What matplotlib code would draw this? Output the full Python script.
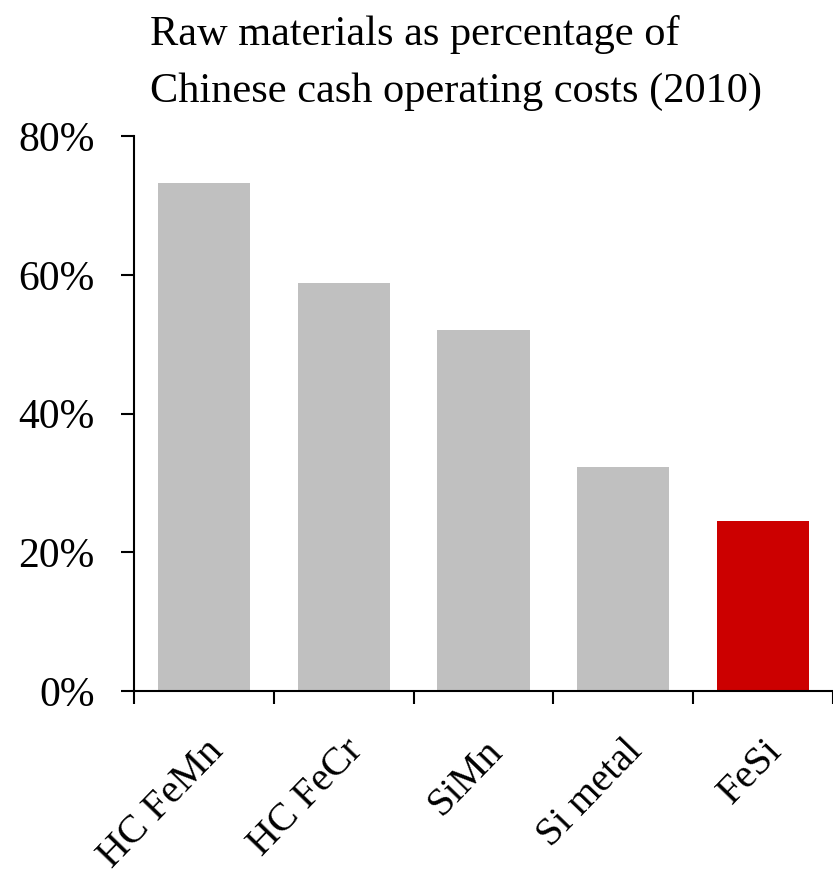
import numpy as np
from matplotlib import pyplot as plt
from matplotlib.transforms import ScaledTranslation

### Data
categories = ['HC FeMn', 'HC FeCr', 'SiMn', 'Si metal', 'FeSi']
shares = [73.2, 58.9, 52.0, 32.3, 24.5]
colors = ['#C0C0C0', '#C0C0C0', '#C0C0C0', '#C0C0C0', '#CC0000']
yticks = [0, 20, 40, 60, 80]
title_lines = ['Raw materials as percentage of',
               'Chinese cash operating costs (2010)']

plt.rcParams['font.family'] = ['Liberation Serif', 'DejaVu Serif']

fig = plt.figure(figsize=(8.33, 8.91), dpi=100)
ax = fig.add_axes([0.161, 0.2245, 0.839, 0.6225])

x = np.arange(len(categories))
ax.bar(x, shares, width=0.66, color=colors)

ax.set_xlim(-0.5, len(categories) - 0.5)
ax.set_ylim(0, 80)
ax.set_yticks(yticks)
ax.set_yticklabels([f'{v}%' for v in yticks], fontsize=30)

# category ticks sit between bars, labels at bar centres
ax.set_xticks(np.arange(len(categories) + 1) - 0.5)
ax.set_xticklabels([])
ax.set_xticks(x, minor=True)
ax.set_xticklabels(categories, minor=True, rotation=46, ha='right',
                   va='top', rotation_mode='anchor', fontsize=29)
shift = ScaledTranslation(30/100, 0, fig.dpi_scale_trans)
for lab in ax.get_xticklabels(minor=True):
    lab.set_transform(lab.get_transform() + shift)
ax.tick_params(axis='x', which='minor', length=0, pad=30)
ax.tick_params(axis='x', which='major', length=9, width=1.5, direction='out')
ax.tick_params(axis='y', length=9.5, width=1.5, direction='out', pad=19)

for side in ['top', 'right']:
    ax.spines[side].set_visible(False)
for side in ['left', 'bottom']:
    ax.spines[side].set_linewidth(1.5)

fig.text(150/833, 1 - 45/891, title_lines[0], ha='left', va='baseline',
         fontsize=30.5)
fig.text(150/833, 1 - 102/891, title_lines[1], ha='left', va='baseline',
         fontsize=30.5)

fig.savefig('out.png', dpi=100)
